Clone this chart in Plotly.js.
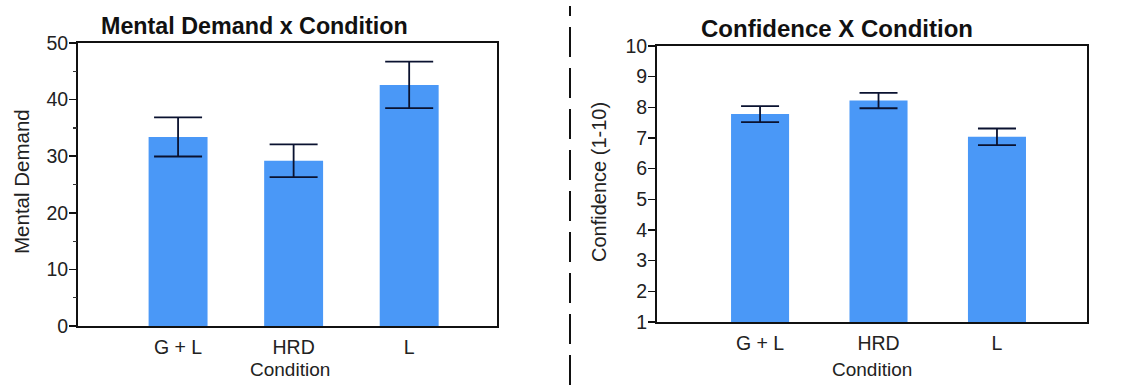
<!DOCTYPE html>
<html>
<head>
<meta charset="utf-8">
<script src="https://cdn.plot.ly/plotly-3.0.1.min.js"></script>
<style>
html,body{margin:0;padding:0;background:#fff;}
#chart{width:1130px;height:385px;}
</style>
</head>
<body>
<div id="chart"></div>
<script>
const categories = ["G + L", "HRD", "L"];
const mentalDemand = [33.4, 29.2, 42.6];
const mentalDemandErr = [3.45, 2.9, 4.1];
const confidence = [7.78, 8.22, 7.04];
const confidenceErr = [0.26, 0.25, 0.27];
const mentalTicks = [0, 10, 20, 30, 40, 50];
const mentalMinorTicks = [5, 15, 25, 35, 45];
const confTicks = [1, 2, 3, 4, 5, 6, 7, 8, 9, 10];

const barColor = "#4a98f7";
const errColor = "#0a1230";
const fontFam = "Liberation Sans, Arial, sans-serif";

const traces = [
  {
    type: "bar", x: categories, y: mentalDemand, xaxis: "x", yaxis: "y",
    marker: {color: barColor}, width: 0.51,
    error_y: {type: "data", array: mentalDemandErr, visible: true, color: errColor, thickness: 1.8, width: 24},
    hoverinfo: "none"
  },
  {
    // invisible helper so the minor-tick overlay axis gets drawn
    type: "scatter", mode: "markers", x: categories, y: mentalDemand, xaxis: "x", yaxis: "y3",
    marker: {opacity: 0, size: 1}, hoverinfo: "none"
  },
  {
    type: "bar", x: categories, y: confidence, xaxis: "x2", yaxis: "y2",
    marker: {color: barColor}, width: 0.49,
    error_y: {type: "data", array: confidenceErr, visible: true, color: errColor, thickness: 1.8, width: 19},
    hoverinfo: "none"
  }
];

const axisCommon = {
  showgrid: false, zeroline: false, showline: true, linecolor: "#111", linewidth: 2,
  mirror: true, tickfont: {family: fontFam, size: 19.5, color: "#222"}
};

const layout = {
  width: 1130, height: 385,
  margin: {l: 0, r: 0, t: 0, b: 0},
  paper_bgcolor: "#fff", plot_bgcolor: "#fff",
  showlegend: false,
  font: {family: fontFam},
  xaxis: Object.assign({}, axisCommon, {
    domain: [78/1130, 497/1130], anchor: "y", range: [-0.866, 2.76], ticks: "", type: "category",
    ticklabelstandoff: 3
  }),
  yaxis: Object.assign({}, axisCommon, {
    domain: [1 - 326/385, 1 - 43/385], anchor: "x", range: [0, 50],
    tickmode: "array", tickvals: mentalTicks, ticks: "outside", ticklen: 7, tickwidth: 1.5, tickcolor: "#111",
    ticklabelstandoff: -3
  }),
  yaxis3: {
    domain: [1 - 326/385, 1 - 43/385], overlaying: "y", anchor: "x", side: "left", range: [0, 50],
    tickmode: "array", tickvals: mentalMinorTicks, ticks: "outside", ticklen: 4, tickwidth: 1.2, tickcolor: "#333",
    showticklabels: false, showgrid: false, zeroline: false, showline: false
  },
  xaxis2: Object.assign({}, axisCommon, {
    domain: [657/1130, 1087/1130], anchor: "y2", range: [-0.87, 2.76], ticks: "", type: "category",
    ticklabelstandoff: 3
  }),
  yaxis2: Object.assign({}, axisCommon, {
    domain: [1 - 322/385, 1 - 46/385], anchor: "x2", range: [1, 10],
    tickmode: "array", tickvals: confTicks, ticks: "outside", ticklen: 7, tickwidth: 1.5, tickcolor: "#111",
    ticklabelstandoff: -3
  }),
  annotations: [
    {text: "<b>Mental Demand x Condition</b>", xref: "paper", yref: "paper", x: 254/1130, y: 1 - 26/385,
     showarrow: false, font: {family: fontFam, size: 23.3, color: "#111"}, xanchor: "center", yanchor: "middle"},
    {text: "<b>Confidence X Condition</b>", xref: "paper", yref: "paper", x: 837/1130, y: 1 - 28/385,
     showarrow: false, font: {family: fontFam, size: 24, color: "#111"}, xanchor: "center", yanchor: "middle"},
    {text: "Mental Demand", xref: "paper", yref: "paper", x: 22/1130, y: 1 - 182/385, textangle: -90,
     showarrow: false, font: {family: fontFam, size: 20.5, color: "#222"}, xanchor: "center", yanchor: "middle"},
    {text: "Confidence (1-10)", xref: "paper", yref: "paper", x: 599/1130, y: 1 - 182/385, textangle: -90,
     showarrow: false, font: {family: fontFam, size: 20, color: "#222"}, xanchor: "center", yanchor: "middle"},
    {text: "Condition", xref: "paper", yref: "paper", x: 290/1130, y: 1 - 369/385,
     showarrow: false, font: {family: fontFam, size: 19, color: "#222"}, xanchor: "center", yanchor: "middle"},
    {text: "Condition", xref: "paper", yref: "paper", x: 872/1130, y: 1 - 369/385,
     showarrow: false, font: {family: fontFam, size: 19, color: "#222"}, xanchor: "center", yanchor: "middle"}
  ],
  shapes: [
    {type: "line", xref: "paper", yref: "paper", x0: 570/1130, x1: 570/1130, y0: 0, y1: 1 - 6/385,
     line: {color: "#111", width: 2, dash: "30px,11px"}}
  ]
};

Plotly.newPlot("chart", traces, layout, {staticPlot: true, displayModeBar: false});
</script>
</body>
</html>
